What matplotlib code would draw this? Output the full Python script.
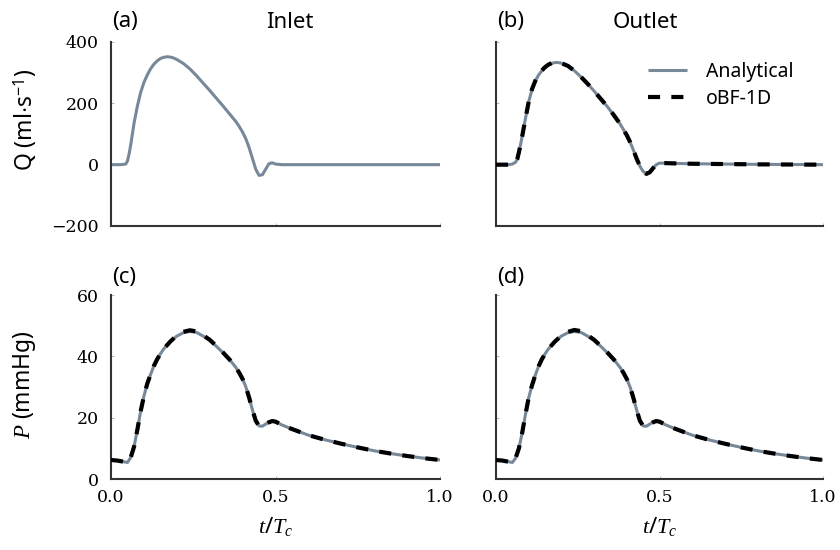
import matplotlib
matplotlib.use("Agg")
import matplotlib.pyplot as plt
from matplotlib.ticker import FixedLocator, FormatStrFormatter

plt.rcParams['font.family'] = ['Noto Sans', 'DejaVu Sans']
plt.rcParams['mathtext.fontset'] = 'custom'
plt.rcParams['mathtext.rm'] = 'Noto Sans'
plt.rcParams['mathtext.it'] = 'Liberation Serif:italic'
plt.rcParams['axes.unicode_minus'] = True

# ---------------- flow rate at the inlet (analytical) ----------------
t_q_in = [0.0, 0.03, 0.045, 0.05, 0.055, 0.06, 0.065, 0.07, 0.08, 0.09, 0.10,
          0.11, 0.12, 0.13, 0.14, 0.15, 0.16, 0.17, 0.18, 0.19, 0.20, 0.22,
          0.24, 0.26, 0.28, 0.30, 0.32, 0.34, 0.36, 0.38, 0.39, 0.40, 0.41,
          0.42, 0.43, 0.44, 0.45, 0.46, 0.47, 0.48, 0.49, 0.50, 0.52, 0.60,
          0.80, 1.0]
q_in_analytical = [0, 0, 2, 12, 35, 65, 100, 135, 190, 235, 268,
                   292, 312, 327, 338, 346, 350, 352, 351, 348, 343, 330,
                   312, 290, 266, 242, 217, 192, 166, 140, 124, 106, 84,
                   55, 20, -15, -35, -33, -15, 3, 6, 2, 0, 0,
                   0, 0]

# ---------------- flow rate at the outlet ----------------
t_q_out = [0.0, 0.04, 0.05, 0.06, 0.065, 0.07, 0.075, 0.08, 0.09, 0.10, 0.11,
           0.12, 0.13, 0.14, 0.15, 0.16, 0.17, 0.18, 0.19, 0.20, 0.22, 0.24,
           0.26, 0.28, 0.30, 0.32, 0.34, 0.36, 0.38, 0.40, 0.41, 0.42, 0.43,
           0.44, 0.45, 0.46, 0.47, 0.48, 0.49, 0.50, 0.52, 0.55, 0.60, 0.70,
           0.80, 0.90, 1.0]
q_out_analytical = [0, 0, 2, 8, 18, 40, 65, 92, 150, 205, 245,
                    272, 292, 306, 317, 325, 330, 333, 333, 331, 322, 306,
                    286, 264, 240, 215, 190, 162, 132, 96, 74, 48, 20,
                    -5, -22, -30, -25, -12, 0, 5, 5, 4, 3, 2,
                    1, 0.5, 0]
q_out_obf = [0, 0, 2, 8, 18, 40, 65, 92, 150, 205, 246,
             273, 293, 307, 318, 326, 331, 334, 334, 331, 322, 306,
             286, 264, 240, 215, 190, 162, 132, 96, 74, 48, 20,
             -5, -22, -30, -25, -12, 0, 5, 5, 4, 3, 2,
             1, 0.5, 0]

# ---------------- pressure at the inlet ----------------
t_p = [0.0, 0.02, 0.04, 0.05, 0.06, 0.07, 0.08, 0.09, 0.10, 0.11, 0.12,
       0.13, 0.14, 0.15, 0.16, 0.18, 0.20, 0.22, 0.24, 0.26, 0.28, 0.30,
       0.32, 0.34, 0.36, 0.38, 0.39, 0.40, 0.41, 0.42, 0.43, 0.44, 0.45,
       0.46, 0.47, 0.48, 0.49, 0.50, 0.52, 0.55, 0.60, 0.65, 0.70, 0.75,
       0.80, 0.85, 0.90, 0.95, 1.0]
p_in_analytical = [6.2, 6.0, 5.6, 5.4, 7.0, 10.5, 16.0, 22.0, 27.0, 31.0, 34.0,
                   36.8, 39.0, 40.8, 42.4, 44.8, 46.6, 47.7, 48.1, 47.8, 46.6, 45.2,
                   43.3, 41.2, 39.0, 36.3, 34.6, 32.6, 30.0, 26.5, 22.5, 19.0, 17.3,
                   17.2, 17.9, 18.5, 18.9, 18.7, 17.6, 16.3, 14.3, 12.8, 11.5, 10.3,
                   9.2, 8.3, 7.5, 6.8, 6.2]
p_in_obf = [6.2, 6.0, 5.6, 5.4, 7.0, 10.5, 16.0, 22.0, 27.0, 31.0, 34.0,
            36.8, 39.0, 40.8, 42.4, 44.8, 46.8, 48.0, 48.5, 48.1, 46.9, 45.4,
            43.4, 41.3, 39.0, 36.3, 34.6, 32.6, 30.0, 26.5, 22.5, 19.0, 17.3,
            17.2, 17.9, 18.5, 18.9, 18.7, 17.6, 16.3, 14.3, 12.8, 11.5, 10.3,
            9.2, 8.3, 7.5, 6.8, 6.2]

# ---------------- pressure at the outlet ----------------
p_out_analytical = [6.2, 6.0, 5.6, 5.4, 6.8, 10.0, 15.0, 21.0, 26.5, 30.5, 33.8,
                    36.7, 39.0, 40.8, 42.4, 44.8, 46.6, 47.7, 48.1, 47.8, 46.6, 45.2,
                    43.3, 41.2, 39.0, 36.3, 34.6, 32.6, 30.0, 26.5, 22.5, 19.0, 17.3,
                    17.2, 17.9, 18.5, 18.9, 18.7, 17.6, 16.3, 14.3, 12.8, 11.5, 10.3,
                    9.2, 8.3, 7.5, 6.8, 6.2]
p_out_obf = [6.2, 6.0, 5.6, 5.4, 6.8, 10.0, 15.0, 21.0, 26.5, 30.5, 33.8,
             36.7, 39.0, 40.8, 42.4, 44.8, 46.8, 48.0, 48.6, 48.2, 46.9, 45.4,
             43.4, 41.3, 39.0, 36.3, 34.6, 32.6, 30.0, 26.5, 22.5, 19.0, 17.3,
             17.2, 17.9, 18.5, 18.9, 18.7, 17.6, 16.3, 14.3, 12.8, 11.5, 10.3,
             9.2, 8.3, 7.5, 6.8, 6.2]

x_ticks = [0.0, 0.5, 1.0]
q_ticks = [-200, 0, 200, 400]
p_ticks = [0, 20, 40, 60]

GRAY = '#778899'
W, H = 840, 550

ANA = dict(color=GRAY, lw=2.2, solid_capstyle='butt', zorder=2)
OBF = dict(color='black', lw=3.0, ls=(0, (2.9, 2.7)), zorder=3)

fig = plt.figure(figsize=(8.4, 5.5), dpi=100)


def box(x0, y0, x1, y1):
    return [x0 / W, 1 - y1 / H, (x1 - x0) / W, (y1 - y0) / H]


ax_a = fig.add_axes(box(111, 42, 440, 226))
ax_b = fig.add_axes(box(496, 42, 823, 226))
ax_c = fig.add_axes(box(111, 295, 440, 479))
ax_d = fig.add_axes(box(496, 295, 823, 479))

for ax in (ax_a, ax_b, ax_c, ax_d):
    for s in ('top', 'right'):
        ax.spines[s].set_visible(False)
    for s in ('left', 'bottom'):
        ax.spines[s].set_color('#333333')
        ax.spines[s].set_linewidth(1.5)
    ax.set_xlim(0, 1)
    ax.xaxis.set_major_locator(FixedLocator(x_ticks))
    ax.xaxis.set_major_formatter(FormatStrFormatter('%.1f'))
    ax.tick_params(direction='in', length=2.5, width=0.6, color='#aaaaaa',
                   labelsize=12.5, pad=7)
    for lab in ax.get_xticklabels() + ax.get_yticklabels():
        lab.set_fontfamily('DejaVu Serif')

for ax in (ax_a, ax_b):
    ax.set_ylim(-200, 400)
    ax.yaxis.set_major_locator(FixedLocator(q_ticks))
    ax.tick_params(axis='x', labelbottom=False)
for ax in (ax_c, ax_d):
    ax.set_ylim(0, 60)
    ax.yaxis.set_major_locator(FixedLocator(p_ticks))
for ax in (ax_b, ax_d):
    ax.tick_params(axis='y', labelleft=False)
ax_a.tick_params(axis='y', pad=9)
ax_c.tick_params(axis='y', pad=9)

ax_a.plot(t_q_in, q_in_analytical, **ANA)
ax_b.plot(t_q_out, q_out_analytical, label='Analytical', **ANA)
ax_b.plot(t_q_out, q_out_obf, label='oBF-1D', **OBF)
ax_c.plot(t_p, p_in_analytical, **ANA)
ax_c.plot(t_p, p_in_obf, **OBF)
ax_d.plot(t_p, p_out_analytical, **ANA)
ax_d.plot(t_p, p_out_obf, **OBF)

ax_b.legend(loc='upper left', bbox_to_anchor=(648 / W, 1 - 62 / H),
            bbox_transform=fig.transFigure, frameon=False, fontsize=14,
            handlelength=2.0, handletextpad=1.0, labelspacing=0.35,
            borderpad=0, borderaxespad=0)

# panel tags and column titles
for x, y, s in [(112, 22, '(a)'), (497, 22, '(b)'), (112, 277, '(c)'), (497, 277, '(d)')]:
    fig.text(x / W, 1 - y / H, s, ha='left', va='center', fontsize=16)
fig.text(290 / W, 1 - 23 / H, 'Inlet', ha='center', va='center', fontsize=16)
fig.text(645 / W, 1 - 23 / H, 'Outlet', ha='center', va='center', fontsize=16)

# axis labels
fig.text(25 / W, 1 - 120 / H, 'Q (ml$\\cdot$s$^{-1}$)', rotation=90,
         ha='center', va='center', fontsize=16.5)
fig.text(25 / W, 1 - 385 / H, '$P$ (mmHg)', rotation=90,
         ha='center', va='center', fontsize=16.5)
fig.text(276 / W, 1 - 527 / H, '$t/T_c$', ha='center', va='center', fontsize=16)
fig.text(660 / W, 1 - 527 / H, '$t/T_c$', ha='center', va='center', fontsize=16)

fig.savefig('out.png', dpi=100)
